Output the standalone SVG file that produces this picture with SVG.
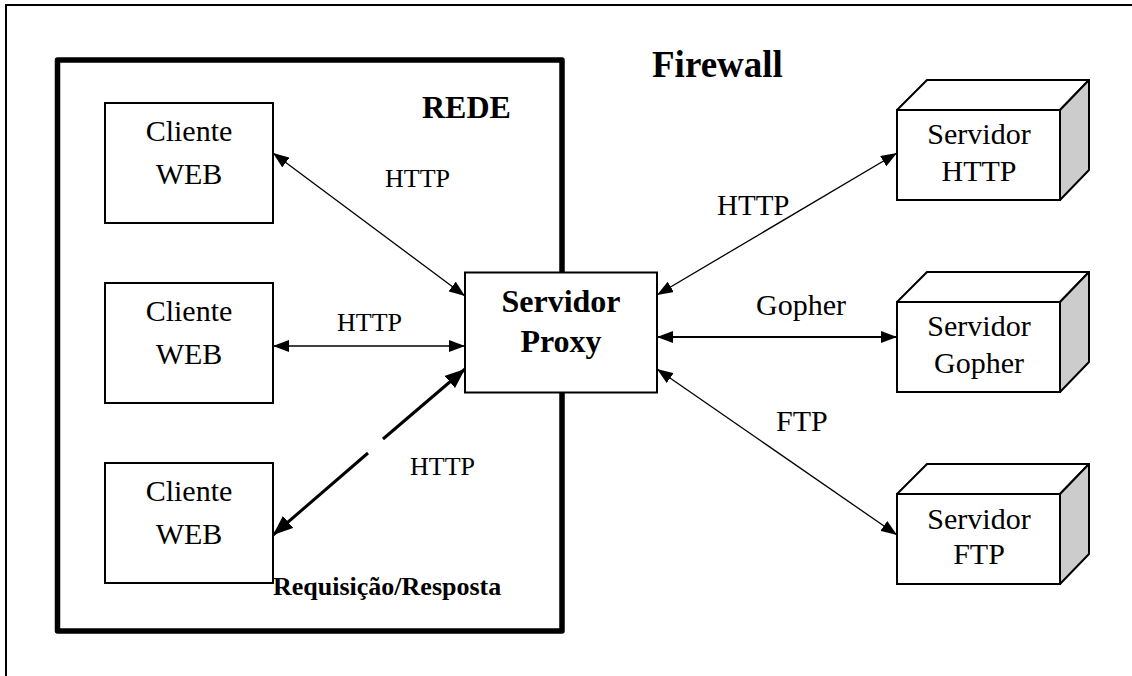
<svg xmlns="http://www.w3.org/2000/svg" width="1132" height="676" viewBox="0 0 1132 676">
  <style>
    text { font-family: "Liberation Serif", "Times New Roman", serif; fill: #000; }
    .c { text-anchor: middle; }
    .b { font-weight: bold; }
    .box { fill: #fff; stroke: #000; stroke-width: 2; }
    .side { fill: #cccccc; stroke: #000; stroke-width: 2; stroke-linejoin: round; }
    .top { fill: #fff; stroke: #000; stroke-width: 2; stroke-linejoin: round; }
    .link { fill: none; stroke: #000; stroke-width: 1.3; }
    .link2 { fill: none; stroke: #000; stroke-width: 2; }
    .link3 { fill: none; stroke: #000; stroke-width: 3; }
  </style>
  <defs>
    <marker id="ah" viewBox="0 0 16 12" markerUnits="userSpaceOnUse" markerWidth="16" markerHeight="12" refX="16" refY="6" orient="auto-start-reverse">
      <path d="M0,0 L16,6 L0,12 z" fill="#000"/>
    </marker>
    <marker id="ahb" viewBox="0 0 20 16" markerUnits="userSpaceOnUse" markerWidth="20" markerHeight="16" refX="20" refY="8" orient="auto-start-reverse">
      <path d="M0,0 L20,8 L0,16 z" fill="#000"/>
    </marker>
  </defs>

  <rect width="1132" height="676" fill="#fff"/>

  <!-- outer frame (firewall boundary) -->
  <path d="M6,676 V5 H1132" fill="none" stroke="#000" stroke-width="2"/>
  <text class="b" x="652" y="77" font-size="37">Firewall</text>

  <!-- internal network -->
  <g id="rede">
    <rect x="57.5" y="60" width="504.5" height="571" fill="none" stroke="#000" stroke-width="5.5" stroke-linejoin="round"/>
    <text class="b" x="422" y="118" font-size="32">REDE</text>
    <text class="b" x="273" y="595" font-size="26">Requisição/Resposta</text>
  </g>

  <g id="cliente1">
    <rect class="box" x="105" y="103" width="168" height="120"/>
    <text class="c" x="189" y="141" font-size="30">Cliente</text>
    <text class="c" x="189" y="184" font-size="30">WEB</text>
  </g>
  <g id="cliente2">
    <rect class="box" x="105" y="283" width="168" height="120"/>
    <text class="c" x="189" y="321" font-size="30">Cliente</text>
    <text class="c" x="189" y="364" font-size="30">WEB</text>
  </g>
  <g id="cliente3">
    <rect class="box" x="105" y="463" width="168" height="120"/>
    <text class="c" x="189" y="501" font-size="30">Cliente</text>
    <text class="c" x="189" y="544" font-size="30">WEB</text>
  </g>

  <g id="proxy">
    <rect class="box" x="465" y="272.5" width="192" height="120"/>
    <text class="c b" x="561" y="312" font-size="32">Servidor</text>
    <text class="c b" x="561" y="352" font-size="32">Proxy</text>
  </g>

  <g id="servidor-http">
    <polygon class="top" points="897,110 927,80 1089,80 1060,110"/>
    <polygon class="side" points="1060,110 1089,80 1089,170 1060,200"/>
    <rect class="box" x="897" y="110" width="163" height="90"/>
    <text class="c" x="979" y="144" font-size="30">Servidor</text>
    <text class="c" x="979" y="181" font-size="30">HTTP</text>
  </g>
  <g id="servidor-gopher">
    <polygon class="top" points="897,302 927,272 1089,272 1060,302"/>
    <polygon class="side" points="1060,302 1089,272 1089,362 1060,392"/>
    <rect class="box" x="897" y="302" width="163" height="90"/>
    <text class="c" x="979" y="336" font-size="30">Servidor</text>
    <text class="c" x="979" y="373" font-size="30">Gopher</text>
  </g>
  <g id="servidor-ftp">
    <polygon class="top" points="897,494 927,464 1089,464 1060,494"/>
    <polygon class="side" points="1060,494 1089,464 1089,554 1060,584"/>
    <rect class="box" x="897" y="494" width="163" height="90"/>
    <text class="c" x="979" y="529" font-size="30">Servidor</text>
    <text class="c" x="979" y="564" font-size="30">FTP</text>
  </g>

  <!-- connectors -->
  <g id="connectors">
    <path class="link" d="M273,153 L465,296" marker-start="url(#ah)" marker-end="url(#ah)"/>
    <path class="link" d="M273,346 L465,346" marker-start="url(#ah)" marker-end="url(#ah)"/>
    <path class="link3" d="M368,453 L273,535" marker-end="url(#ahb)"/>
    <path class="link3" d="M383,439 L465,369" marker-end="url(#ahb)"/>
    <path class="link" d="M657,295 L897,153" marker-start="url(#ah)" marker-end="url(#ah)"/>
    <path class="link2" d="M657,337 L897,337" marker-start="url(#ah)" marker-end="url(#ah)"/>
    <path class="link" d="M657,369 L897,535" marker-start="url(#ah)" marker-end="url(#ah)"/>
  </g>

  <!-- protocol labels -->
  <g id="labels">
    <text x="385" y="187" font-size="26">HTTP</text>
    <text x="337" y="331" font-size="26">HTTP</text>
    <text x="410" y="475" font-size="26">HTTP</text>
    <text x="717" y="215" font-size="29">HTTP</text>
    <text x="756" y="315" font-size="30">Gopher</text>
    <text x="776" y="431" font-size="30">FTP</text>
  </g>
</svg>
